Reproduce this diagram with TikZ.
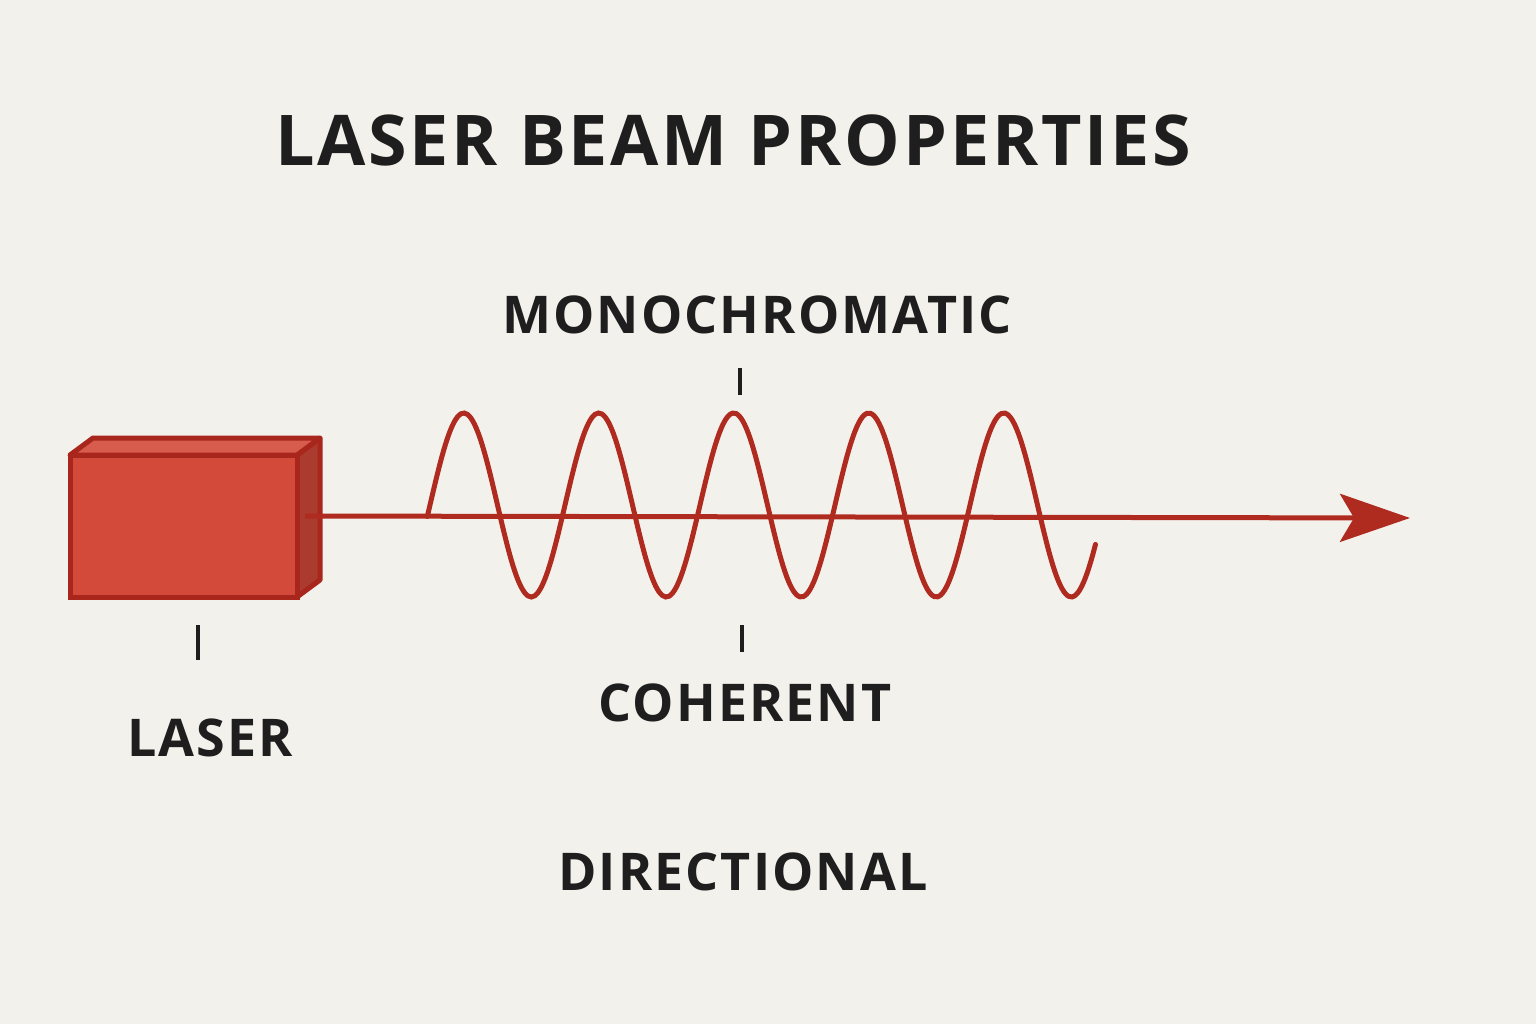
\documentclass[tikz,border=0pt]{standalone}
\usepackage{fontspec}
\setmainfont{Open Sans}[LetterSpace=4]
\usetikzlibrary{arrows.meta}
\definecolor{paper}{HTML}{F3F1EC}
\definecolor{laserred}{HTML}{D44A3A}
\definecolor{darkred}{HTML}{A8261C}
\definecolor{ink}{HTML}{1E1E1E}
\begin{document}
\begin{tikzpicture}[x=1pt,y=-1pt, title text/.style={font=\fontsize{70}{80}\selectfont\bfseries,text=ink}, label text/.style={font=\fontsize{52}{60}\selectfont\bfseries,text=ink}, tick/.style={ink,line width=4pt}, beam/.style={darkred!85!laserred,line width=5pt}]
  \fill[paper] (0,0) rectangle (1536,1024);
  \useasboundingbox (0,0) rectangle (1536,1024);

  \node[title text] (title) at (733,140) {LASER BEAM PROPERTIES};
  \node[label text] (mono) at (757,315) {MONOCHROMATIC};
  \node[label text] (coh) at (745,703) {COHERENT};
  \node[label text] (laser) at (210,738) {LASER};
  \node[label text] (dir) at (743,872) {DIRECTIONAL};

  % laser box
  \filldraw[fill=laserred!80!black,draw=darkred,line width=5pt,line join=round] (297,455) -- (320,438) -- (320,580) -- (297,597) -- cycle;
  \filldraw[fill=laserred!90!white,draw=darkred,line width=5pt,line join=round] (70,455) -- (93,438) -- (320,438) -- (297,455) -- cycle;
  \filldraw[fill=laserred,draw=darkred,line width=5pt] (70,455) rectangle (297,597);
  \coordinate (exit) at (305,516);
  \coordinate (tip) at (1410,518);

  % beam and wave
  \draw[beam,-{Stealth[length=70pt,width=48pt,inset=14pt]}] (exit) -- (tip);
  \draw[beam,line cap=round,smooth] plot[domain=-0.02:4.93,samples=200] ({430+135*\x},{505-92*sin(360*\x)});

  % ticks
  \coordinate (t1a) at (740,368); \coordinate (t1b) at (740,395);
  \coordinate (t2a) at (742,625); \coordinate (t2b) at (742,652);
  \coordinate (t3a) at (198,625); \coordinate (t3b) at (198,660);
  \draw[tick] (t1a) -- (t1b);
  \draw[tick] (t2a) -- (t2b);
  \draw[tick] (t3a) -- (t3b);
\end{tikzpicture}
\end{document}
